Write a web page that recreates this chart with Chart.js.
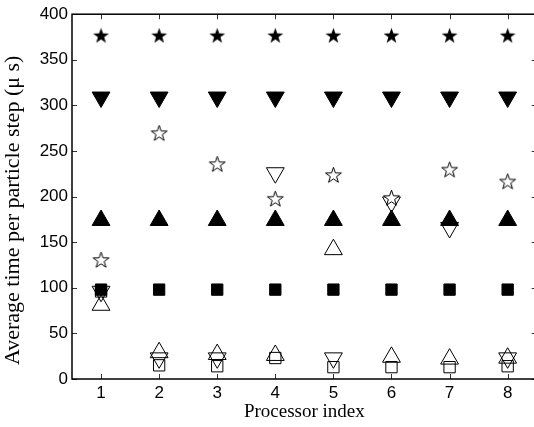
<!DOCTYPE html>
<html>
<head>
<meta charset="UTF-8">
<title>Average time per particle step</title>
<script src="https://cdn.jsdelivr.net/npm/chart.js"></script>
<style>
  html, body { margin: 0; padding: 0; background: #fff; overflow: hidden; }
  #wrap { width: 534px; height: 427px; overflow: hidden; }
  #box { width: 548px; height: 427px; }
</style>
</head>
<body>
<div id="wrap"><div id="box"><canvas id="timing"></canvas></div></div>
<script>
const processors = [1, 2, 3, 4, 5, 6, 7, 8];
const yTicks = [0, 50, 100, 150, 200, 250, 300, 350, 400];

// filled markers
const starFilled = [376, 376, 376, 376, 376, 376, 376, 376];
const downFilled = [309, 309, 309, 309, 309, 309, 309, 309];
const upFilled = [174, 174, 174, 174, 174, 174, 174, 174];
const squareFilled = [98, 98, 98, 98, 98, 98, 98, 98];

// open markers
const starOpen = [130, 269, 235, 197, 223, 198, 229, 216];
const downOpen = [96, 23, 23, 226, 23, 194, 166, 23];
const upOpen = [81, 29, 27, 26, 142, 24, 22, 23];
const squareOpen = [96, 15, 14, 23, 13, 13, 13, 14];

// five pointed star drawn into a small canvas, used as a point style
function makeStar(outer, inner, filled) {
  const size = Math.ceil(outer * 2 + 4);
  const c = document.createElement('canvas');
  c.width = size; c.height = size;
  const g = c.getContext('2d');
  g.translate(size / 2, size / 2);
  g.beginPath();
  for (let i = 0; i < 10; i++) {
    const r = i % 2 === 0 ? outer : inner;
    const a = -Math.PI / 2 + i * Math.PI / 5;
    const px = Math.cos(a) * r, py = Math.sin(a) * r;
    if (i === 0) g.moveTo(px, py); else g.lineTo(px, py);
  }
  g.closePath();
  if (filled) { g.fillStyle = '#000'; g.fill(); }
  else { g.fillStyle = '#fff'; g.fill(); g.lineWidth = 1; g.strokeStyle = '#000'; g.stroke(); }
  return c;
}

const starBlack = makeStar(8.3, 3.3, true);
const starWhite = makeStar(8.3, 3.3, false);

function series(data, style, filled, radius, rotation) {
  return {
    data: data.map((v, i) => ({ x: processors[i], y: v })),
    pointStyle: style,
    pointRadius: radius,
    pointHoverRadius: radius,
    rotation: rotation || 0,
    backgroundColor: filled ? '#000' : 'rgba(0,0,0,0)',
    borderColor: '#000',
    borderWidth: 1,
    showLine: false
  };
}

// matlab style box with inward ticks
const boxTicks = {
  id: 'boxTicks',
  afterDraw(chart) {
    const { ctx, chartArea: a, scales } = chart;
    ctx.save();
    ctx.strokeStyle = '#333';
    ctx.lineWidth = 1;
    ctx.beginPath();
    processors.forEach(v => {
      const px = Math.round(scales.x.getPixelForValue(v)) + 0.5;
      ctx.moveTo(px, a.bottom); ctx.lineTo(px, a.bottom - 5);
      ctx.moveTo(px, a.top); ctx.lineTo(px, a.top + 5);
    });
    yTicks.forEach(v => {
      const py = Math.round(scales.y.getPixelForValue(v)) + 0.5;
      ctx.moveTo(a.left, py); ctx.lineTo(a.left + 5, py);
      ctx.moveTo(a.right, py); ctx.lineTo(a.right - 5, py);
    });
    ctx.stroke();
    ctx.strokeStyle = '#000';
    ctx.lineWidth = 1.5;
    ctx.strokeRect(a.left, a.top, a.right - a.left, a.bottom - a.top);
    ctx.restore();
  }
};

new Chart(document.getElementById('timing'), {
  type: 'scatter',
  data: {
    datasets: [
      series(squareFilled, 'rect', true, 8),
      series(starFilled, starBlack, true, 8),
      series(downFilled, 'triangle', true, 10.3, 180),
      series(upFilled, 'triangle', true, 10.3),
      series(starOpen, starWhite, false, 8),
      series(downOpen, 'triangle', false, 10.3, 180),
      series(upOpen, 'triangle', false, 10.3),
      series(squareOpen, 'rect', false, 8)
    ]
  },
  options: {
    responsive: true,
    maintainAspectRatio: false,
    animation: false,
    layout: { padding: { top: 9, right: 7, left: 0, bottom: 0 } },
    plugins: { legend: { display: false }, tooltip: { enabled: false } },
    scales: {
      x: {
        type: 'linear',
        min: 0.5,
        max: 8.5,
        afterBuildTicks: s => { s.ticks = processors.map(v => ({ value: v })); },
        afterFit: s => { s.height = 48; },
        grid: { drawOnChartArea: false, drawTicks: false },
        border: { display: false },
        ticks: { color: '#000', padding: 4, font: { family: 'Liberation Sans', size: 17 } },
        title: {
          display: true,
          text: 'Processor index',
          color: '#000',
          padding: { top: 0, bottom: 4 },
          font: { family: 'Liberation Serif', size: 19 }
        }
      },
      y: {
        min: 0,
        max: 400,
        afterBuildTicks: s => { s.ticks = yTicks.map(v => ({ value: v })); },
        afterFit: s => { s.width = 72; },
        grid: { drawOnChartArea: false, drawTicks: false },
        border: { display: false },
        ticks: { color: '#000', padding: 4, font: { family: 'Liberation Sans', size: 17 } },
        title: {
          display: true,
          text: 'Average time per particle step (\u03bc s)\u00a0\u00a0\u00a0\u00a0\u00a0',
          color: '#000',
          padding: { top: 0, bottom: 0 },
          font: { family: 'Liberation Serif', size: 22 }
        }
      }
    }
  },
  plugins: [boxTicks]
});
</script>
</body>
</html>
